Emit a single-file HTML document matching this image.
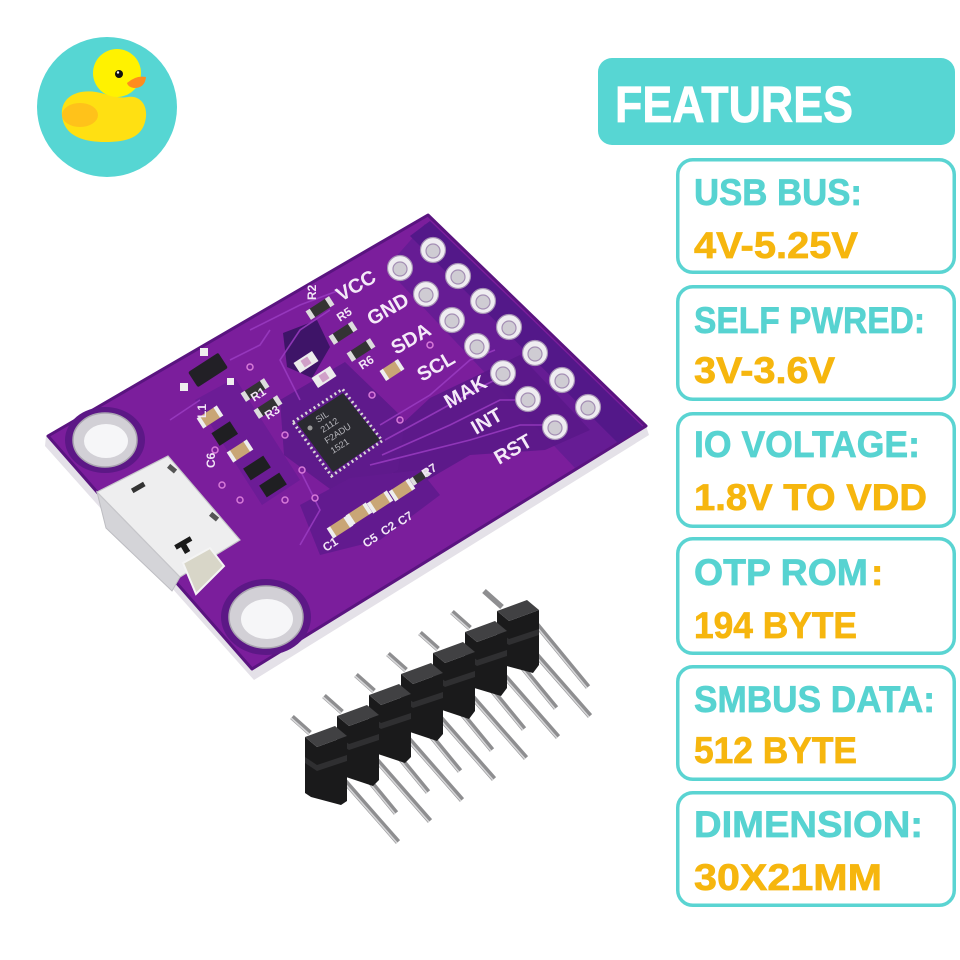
<!DOCTYPE html>
<html><head><meta charset="utf-8"><style>
html,body{margin:0;padding:0;background:#fff;}
svg{display:block;}
</style></head><body>
<svg width="960" height="960" viewBox="0 0 960 960" xmlns="http://www.w3.org/2000/svg">
<rect width="960" height="960" fill="#ffffff"/>

<!-- Duck logo -->
<circle cx="107" cy="107" r="70" fill="#56D6D3"/>
<path d="M62,116 C60,98 76,89 96,92 C108,94 116,99 128,97 C142,95 149,108 145,122 C141,137 128,142 105,142 C80,142 64,134 62,116 Z" fill="#FFE012"/>
<circle cx="117" cy="73" r="24" fill="#FFF200"/>
<ellipse cx="80" cy="115" rx="18" ry="12" fill="#FFC21A"/>
<path d="M127,83 Q136,75 146,77 Q145,88 134,88 Q128,87 127,83 Z" fill="#FF8C1E"/>
<circle cx="119" cy="74" r="4" fill="#111"/>
<circle cx="118" cy="72.5" r="1.2" fill="#fff"/>

<!-- FEATURES header -->
<rect x="598" y="58" width="357" height="87" rx="14" fill="#57D6D3"/>
<text x="615" y="122" font-family="Liberation Sans, sans-serif" font-weight="bold" font-size="51" fill="#fff" stroke="#fff" stroke-width="0.8" textLength="238" lengthAdjust="spacingAndGlyphs">FEATURES</text>

<!-- Feature boxes -->
<g fill="none" stroke="#5AD4D2" stroke-width="3.5">
<rect x="677.75" y="159.75" width="276.5" height="112.5" rx="15"/>
<rect x="677.75" y="286.75" width="276.5" height="112.5" rx="15"/>
<rect x="677.75" y="413.75" width="276.5" height="112.5" rx="15"/>
<rect x="677.75" y="538.75" width="276.5" height="114.5" rx="15"/>
<rect x="677.75" y="666.75" width="276.5" height="112.5" rx="15"/>
<rect x="677.75" y="792.75" width="276.5" height="112.5" rx="15"/>
</g>
<g font-family="Liberation Sans, sans-serif" font-weight="bold" font-size="37" stroke-width="0.7">
<text x="694" y="205" fill="#57D3D1" stroke="#57D3D1" textLength="168" lengthAdjust="spacingAndGlyphs">USB BUS:</text>
<text x="694" y="258" fill="#F6B60E" stroke="#F6B60E" textLength="164" lengthAdjust="spacingAndGlyphs">4V-5.25V</text>
<text x="694" y="333" fill="#57D3D1" stroke="#57D3D1" textLength="231" lengthAdjust="spacingAndGlyphs">SELF PWRED:</text>
<text x="694" y="383" fill="#F6B60E" stroke="#F6B60E" textLength="141" lengthAdjust="spacingAndGlyphs">3V-3.6V</text>
<text x="694" y="457" fill="#57D3D1" stroke="#57D3D1" textLength="226" lengthAdjust="spacingAndGlyphs">IO VOLTAGE:</text>
<text x="694" y="510" fill="#F6B60E" stroke="#F6B60E" textLength="233" lengthAdjust="spacingAndGlyphs">1.8V TO VDD</text>
<text x="694" y="585" fill="#57D3D1" stroke="#57D3D1" textLength="174" lengthAdjust="spacingAndGlyphs">OTP ROM</text>
<text x="871" y="585" fill="#F6B60E" stroke="#F6B60E">:</text>
<text x="694" y="638" fill="#F6B60E" stroke="#F6B60E" textLength="163" lengthAdjust="spacingAndGlyphs">194 BYTE</text>
<text x="694" y="712" fill="#57D3D1" stroke="#57D3D1" textLength="241" lengthAdjust="spacingAndGlyphs">SMBUS DATA:</text>
<text x="694" y="763" fill="#F6B60E" stroke="#F6B60E" textLength="163" lengthAdjust="spacingAndGlyphs">512 BYTE</text>
<text x="694" y="837" fill="#57D3D1" stroke="#57D3D1" textLength="229" lengthAdjust="spacingAndGlyphs">DIMENSION:</text>
<text x="694" y="890" fill="#F6B60E" stroke="#F6B60E" textLength="188" lengthAdjust="spacingAndGlyphs">30X21MM</text>
</g>

<!-- PCB board -->
<polygon points="46,436 252,669 646,426 649,435 254,680 45,446" fill="#e4e1e8"/>
<polygon points="48,436 428,215 646,426 252,669" fill="#7b1e9c" stroke="#5a1480" stroke-width="3" stroke-linejoin="round"/>
<!-- dark regions -->
<polygon points="425,224 640,428 575,468 386,268" fill="#661c94"/>
<polygon points="430,221 643,427 618,443 410,236" fill="#531889"/>
<polygon points="372,452 430,398 520,355 590,430 545,450 470,455 410,490" fill="#5a1888" opacity="0.9"/>
<polygon points="280,400 345,362 405,420 398,470 345,500 284,455" fill="#5f1a8c"/>
<polygon points="283,333 317,320 330,347 312,378 287,367" fill="#3e1468"/>
<polygon points="195,400 235,378 300,480 262,505" fill="#6c1c96"/>
<ellipse cx="105" cy="440" rx="40" ry="33" fill="#5c1886"/>
<ellipse cx="266" cy="617" rx="45" ry="38" fill="#5c1886"/>
<polygon points="300,505 350,478 420,470 440,495 380,540 320,555" fill="#621a8f"/>

<!-- traces -->
<g fill="none" stroke="#9a3cc2" stroke-width="1.6" opacity="0.85">
<polyline points="380,425 430,395 470,360 495,350"/>
<polyline points="385,440 440,410 485,385 505,375"/>
<polyline points="382,455 450,425 500,400 530,400"/>
<polyline points="370,465 470,440 520,425 555,425"/>
<polyline points="300,400 280,360 300,330 330,310"/>
<polyline points="250,330 300,305 340,290"/>
<polyline points="230,360 260,345 270,330"/>
<polyline points="300,470 320,510 300,545"/>
<polyline points="170,420 200,400"/>
</g>
<!-- vias -->
<g fill="#7b1e9c" stroke="#d77ad8" stroke-width="1.5">
<circle cx="250" cy="367" r="3"/><circle cx="285" cy="435" r="3"/><circle cx="302" cy="470" r="3"/>
<circle cx="285" cy="500" r="3"/><circle cx="315" cy="498" r="3"/><circle cx="400" cy="420" r="3"/>
<circle cx="430" cy="345" r="3"/><circle cx="372" cy="395" r="3"/><circle cx="320" cy="420" r="3"/>
<circle cx="222" cy="485" r="3"/><circle cx="240" cy="500" r="3"/><circle cx="215" cy="450" r="3"/>
</g>

<!-- holes -->
<ellipse cx="105" cy="440" rx="32" ry="27" fill="#d2d0d6" stroke="#a9a4b0" stroke-width="1.5"/>
<ellipse cx="106" cy="441" rx="22" ry="17" fill="#f6f6f8"/>
<ellipse cx="266" cy="617" rx="37" ry="31" fill="#d2d0d6" stroke="#a9a4b0" stroke-width="1.5"/>
<ellipse cx="267" cy="619" rx="26" ry="20" fill="#f6f6f8"/>

<!-- USB connector -->
<polygon points="97,492 180,577 172,591 106,528" fill="#d4d4d8" stroke="#bdbdc2" stroke-width="1"/>
<polygon points="97,492 168,456 240,540 180,577" fill="#eeeeef" stroke="#c6c6ca" stroke-width="1.2"/>
<polygon points="183,563 210,548 224,566 196,594" fill="#d8d6c8" stroke="#f4f4f4" stroke-width="2"/>
<rect x="168" y="466" width="9" height="5" fill="#555" transform="rotate(40 172 468)"/>
<rect x="210" y="514" width="9" height="5" fill="#555" transform="rotate(40 214 516)"/>
<path d="M176,540 L194,540 L194,545 L187,545 L187,553 L181,553 L181,545 L176,545 Z" fill="#1a1a1a" transform="rotate(-30 185 546)"/>
<rect x="131" y="485" width="14" height="5" fill="#333" transform="rotate(-30 138 487)"/>

<!-- chip -->
<polygon points="292.9,422.1 342.5,389.1 382.2,440.8 331.5,476" fill="none" stroke="#d8d8d8" stroke-width="3" stroke-dasharray="2,3"/>
<polygon points="297,423 343,393 380,440 333,472" fill="#2a2a30"/>
<g font-family="Liberation Sans, sans-serif" font-size="9" fill="#b8b8be">
<text transform="translate(318,423) rotate(-33)">SIL</text>
<text transform="translate(323,433) rotate(-33)">2112</text>
<text transform="translate(327,444) rotate(-33)">F2ADU</text>
<text transform="translate(333,454) rotate(-33)">1521</text>
</g>
<circle cx="310" cy="428" r="2.5" fill="#999"/>

<!-- components -->
<g>
<rect x="190" y="361" width="36" height="18" rx="2" fill="#222026" transform="rotate(-33 208 370)"/>
<rect x="180" y="383" width="8" height="8" fill="#eee"/>
<rect x="200" y="348" width="8" height="8" fill="#eee"/>
<rect x="227" y="378" width="7" height="7" fill="#eee"/>
<g transform="rotate(-33 320 308)"><rect x="310" y="303" width="20" height="10" fill="#333"/><rect x="306" y="303" width="5" height="10" fill="#ddd"/><rect x="329" y="303" width="5" height="10" fill="#ddd"/></g>
<g transform="rotate(-33 343 333)"><rect x="333" y="328" width="20" height="10" fill="#333"/><rect x="329" y="328" width="5" height="10" fill="#ddd"/><rect x="352" y="328" width="5" height="10" fill="#ddd"/></g>
<g transform="rotate(-33 361 350)"><rect x="351" y="345" width="20" height="10" fill="#333"/><rect x="347" y="345" width="5" height="10" fill="#ddd"/><rect x="370" y="345" width="5" height="10" fill="#ddd"/></g>
<g transform="rotate(-33 255 390)"><rect x="245" y="385" width="20" height="10" fill="#333"/><rect x="241" y="385" width="5" height="10" fill="#ddd"/><rect x="264" y="385" width="5" height="10" fill="#ddd"/></g>
<g transform="rotate(-33 268 407)"><rect x="258" y="402" width="20" height="10" fill="#333"/><rect x="254" y="402" width="5" height="10" fill="#ddd"/><rect x="277" y="402" width="5" height="10" fill="#ddd"/></g>
<g transform="rotate(-33 306 362)"><rect x="295" y="356" width="22" height="12" fill="#ececec"/><rect x="302" y="358" width="8" height="8" fill="#d0a0c8"/></g>
<g transform="rotate(-33 324 377)"><rect x="313" y="371" width="22" height="12" fill="#ececec"/><rect x="320" y="373" width="8" height="8" fill="#d0a0c8"/></g>
<g transform="rotate(-33 392 370)"><rect x="384" y="364" width="16" height="12" fill="#c9a676"/><rect x="381" y="364" width="4" height="12" fill="#eee"/><rect x="399" y="364" width="4" height="12" fill="#eee"/></g>
<g transform="rotate(-33 210 417)"><rect x="201" y="411" width="18" height="12" fill="#c9a676"/><rect x="198" y="411" width="4" height="12" fill="#eee"/><rect x="218" y="411" width="4" height="12" fill="#eee"/></g>
<rect x="214" y="426" width="22" height="15" fill="#1f1f22" transform="rotate(-33 225 434)"/>
<g transform="rotate(-33 240 451)"><rect x="231" y="445" width="18" height="12" fill="#c9a676"/><rect x="228" y="445" width="4" height="12" fill="#eee"/><rect x="248" y="445" width="4" height="12" fill="#eee"/></g>
<rect x="245" y="461" width="24" height="14" fill="#1f1f22" transform="rotate(-33 257 468)"/>
<rect x="261" y="478" width="24" height="14" fill="#1f1f22" transform="rotate(-33 273 485)"/>
<g transform="rotate(-33 340 527)"><rect x="331" y="521" width="18" height="12" fill="#c9a676"/><rect x="328" y="521" width="4" height="12" fill="#eee"/><rect x="348" y="521" width="4" height="12" fill="#eee"/></g>
<g transform="rotate(-33 359 514)"><rect x="350" y="508" width="18" height="12" fill="#c9a676"/><rect x="347" y="508" width="4" height="12" fill="#eee"/><rect x="367" y="508" width="4" height="12" fill="#eee"/></g>
<g transform="rotate(-33 380 502)"><rect x="371" y="496" width="18" height="12" fill="#c9a676"/><rect x="368" y="496" width="4" height="12" fill="#eee"/><rect x="388" y="496" width="4" height="12" fill="#eee"/></g>
<g transform="rotate(-33 402 490)"><rect x="393" y="484" width="18" height="12" fill="#c9a676"/><rect x="390" y="484" width="4" height="12" fill="#eee"/><rect x="410" y="484" width="4" height="12" fill="#eee"/></g>
<g transform="rotate(-33 420 477)"><rect x="413" y="473" width="14" height="8" fill="#333"/><rect x="410" y="473" width="4" height="8" fill="#ddd"/><rect x="426" y="473" width="4" height="8" fill="#ddd"/></g>
</g>
<g font-family="Liberation Sans, sans-serif" font-weight="bold" font-size="12" fill="#f2e6f6">
<text transform="translate(254,402) rotate(-33)">R1</text>
<text transform="translate(268,420) rotate(-33)">R3</text>
<text transform="translate(340,322) rotate(-33)">R5</text>
<text transform="translate(362,370) rotate(-33)">R6</text>
<text transform="translate(425,478) rotate(-33)">R7</text>
<text transform="translate(316,300) rotate(-90)">R2</text>
<text transform="translate(326,552) rotate(-33)">C1</text>
<text transform="translate(366,548) rotate(-33)">C5</text>
<text transform="translate(384,536) rotate(-33)">C2</text>
<text transform="translate(401,526) rotate(-33)">C7</text>
<text transform="translate(215,468) rotate(-90)">C6</text>
<text transform="translate(206,418) rotate(-90)">L1</text>
</g>

<!-- header pads -->
<g stroke="#a48fb4" stroke-width="1.2">
<g fill="#efedf1">
<circle cx="433" cy="250" r="12.5"/><circle cx="458" cy="276" r="12.5"/><circle cx="483" cy="301" r="12.5"/>
<circle cx="509" cy="327" r="12.5"/><circle cx="535" cy="353" r="12.5"/><circle cx="562" cy="380" r="12.5"/>
<circle cx="588" cy="407" r="12.5"/>
<circle cx="400" cy="268" r="12.5"/><circle cx="426" cy="294" r="12.5"/><circle cx="452" cy="320" r="12.5"/>
<circle cx="477" cy="346" r="12.5"/><circle cx="503" cy="373" r="12.5"/><circle cx="528" cy="399" r="12.5"/>
<circle cx="555" cy="427" r="12.5"/>
</g>
<g fill="#cfccd3">
<circle cx="433" cy="251" r="7"/><circle cx="458" cy="277" r="7"/><circle cx="483" cy="302" r="7"/>
<circle cx="509" cy="328" r="7"/><circle cx="535" cy="354" r="7"/><circle cx="562" cy="381" r="7"/>
<circle cx="588" cy="408" r="7"/>
<circle cx="400" cy="269" r="7"/><circle cx="426" cy="295" r="7"/><circle cx="452" cy="321" r="7"/>
<circle cx="477" cy="347" r="7"/><circle cx="503" cy="374" r="7"/><circle cx="528" cy="400" r="7"/>
<circle cx="555" cy="428" r="7"/>
</g>
</g>
<!-- pin labels -->
<g font-family="Liberation Sans, sans-serif" font-weight="bold" font-size="20" fill="#f4eaf8">
<text transform="translate(341,302) rotate(-30)">VCC</text>
<text transform="translate(372,326) rotate(-30)">GND</text>
<text transform="translate(396,355) rotate(-30)">SDA</text>
<text transform="translate(422,382) rotate(-30)">SCL</text>
<text transform="translate(449,409) rotate(-30)">MAK</text>
<text transform="translate(476,435) rotate(-30)">INT</text>
<text transform="translate(499,465) rotate(-30)">RST</text>
</g>

<!-- Pin header: pins -->
<g stroke-linecap="butt">
<g stroke="#8e8e90" stroke-width="5.5">
<line x1="292" y1="717" x2="310" y2="733"/><line x1="324" y1="696" x2="342" y2="712"/>
<line x1="356" y1="675" x2="374" y2="691"/><line x1="388" y1="654" x2="406" y2="670"/>
<line x1="420" y1="633" x2="438" y2="649"/><line x1="452" y1="612" x2="470" y2="628"/>
<line x1="484" y1="591" x2="502" y2="607"/>
<line x1="345" y1="751" x2="396" y2="813"/><line x1="377" y1="730" x2="428" y2="792"/>
<line x1="409" y1="709" x2="460" y2="771"/><line x1="441" y1="688" x2="492" y2="750"/>
<line x1="473" y1="667" x2="524" y2="729"/><line x1="505" y1="646" x2="556" y2="708"/>
<line x1="537" y1="625" x2="588" y2="687"/>
<line x1="341" y1="777" x2="398" y2="842"/><line x1="373" y1="756" x2="430" y2="821"/>
<line x1="405" y1="735" x2="462" y2="800"/><line x1="437" y1="714" x2="494" y2="779"/>
<line x1="469" y1="693" x2="526" y2="758"/><line x1="501" y1="672" x2="558" y2="737"/>
<line x1="533" y1="651" x2="590" y2="716"/>
</g>
<g stroke="#d6d6d8" stroke-width="1.6">
<line x1="291" y1="718" x2="309" y2="734"/><line x1="323" y1="697" x2="341" y2="713"/>
<line x1="355" y1="676" x2="373" y2="692"/><line x1="387" y1="655" x2="405" y2="671"/>
<line x1="419" y1="634" x2="437" y2="650"/><line x1="451" y1="613" x2="469" y2="629"/>
<line x1="344" y1="752" x2="395" y2="814"/><line x1="376" y1="731" x2="427" y2="793"/>
<line x1="408" y1="710" x2="459" y2="772"/><line x1="440" y1="689" x2="491" y2="751"/>
<line x1="472" y1="668" x2="523" y2="730"/><line x1="504" y1="647" x2="555" y2="709"/>
<line x1="536" y1="626" x2="587" y2="688"/>
<line x1="340" y1="778" x2="397" y2="843"/><line x1="372" y1="757" x2="429" y2="822"/>
<line x1="404" y1="736" x2="461" y2="801"/><line x1="436" y1="715" x2="493" y2="780"/>
<line x1="468" y1="694" x2="525" y2="759"/><line x1="500" y1="673" x2="557" y2="738"/>
<line x1="532" y1="652" x2="589" y2="717"/>
</g>
</g>

<!-- Pin header: blocks (back to front) -->
<g>
<g transform="translate(497,611)">
<polygon points="0,0 12,10 42,-1 42,54 36,62 6,54 0,48" fill="#1a1a1b"/>
<polygon points="0,20 12,28 42,18 42,24 12,34 0,26" fill="#2f2f31"/>
<polygon points="0,0 30,-11 42,-1 12,10" fill="#414143"/>
</g>
<g transform="translate(465,632)">
<polygon points="0,0 12,10 42,-1 42,56 36,64 6,55 0,49" fill="#1a1a1b"/>
<polygon points="0,20 12,28 42,18 42,24 12,34 0,26" fill="#2f2f31"/>
<polygon points="0,0 30,-11 42,-1 12,10" fill="#414143"/>
</g>
<g transform="translate(433,653)">
<polygon points="0,0 12,10 42,-1 42,58 36,66 6,56 0,50" fill="#1a1a1b"/>
<polygon points="0,20 12,28 42,18 42,24 12,34 0,26" fill="#2f2f31"/>
<polygon points="0,0 30,-11 42,-1 12,10" fill="#414143"/>
</g>
<g transform="translate(401,674)">
<polygon points="0,0 12,10 42,-1 42,60 36,67 6,57 0,51" fill="#1a1a1b"/>
<polygon points="0,20 12,28 42,18 42,24 12,34 0,26" fill="#2f2f31"/>
<polygon points="0,0 30,-11 42,-1 12,10" fill="#414143"/>
</g>
<g transform="translate(369,695)">
<polygon points="0,0 12,10 42,-1 42,62 36,68 6,58 0,52" fill="#1a1a1b"/>
<polygon points="0,20 12,28 42,18 42,24 12,34 0,26" fill="#2f2f31"/>
<polygon points="0,0 30,-11 42,-1 12,10" fill="#414143"/>
</g>
<g transform="translate(337,716)">
<polygon points="0,0 12,10 42,-1 42,64 36,70 6,60 0,54" fill="#1a1a1b"/>
<polygon points="0,20 12,28 42,18 42,24 12,34 0,26" fill="#2f2f31"/>
<polygon points="0,0 30,-11 42,-1 12,10" fill="#414143"/>
</g>
<g transform="translate(305,737)">
<polygon points="0,0 12,10 42,-1 42,64 36,68 6,60 0,56" fill="#1a1a1b"/>
<polygon points="0,20 12,28 42,18 42,24 12,34 0,26" fill="#2f2f31"/>
<polygon points="0,0 30,-11 42,-1 12,10" fill="#414143"/>
</g>
</g>
</svg>
</body></html>
